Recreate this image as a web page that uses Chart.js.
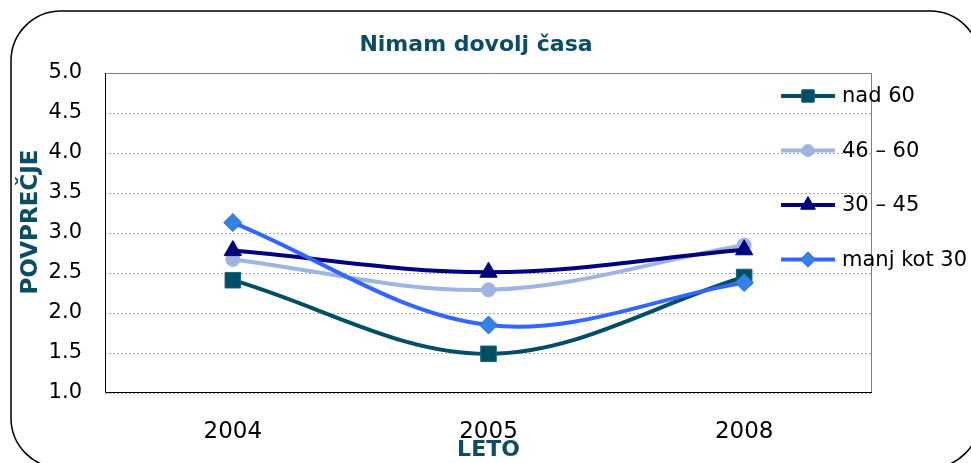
<!DOCTYPE html>
<html>
<head>
<meta charset="utf-8">
<script src="https://cdn.jsdelivr.net/npm/chart.js@4/dist/chart.umd.min.js"></script>
<style>
  html, body { margin: 0; padding: 0; background: #fff; }
  #wrap { width: 971px; height: 463px; }
</style>
</head>
<body>
<div id="wrap"><canvas id="my-chart" width="971" height="463"></canvas></div>
<script>
const years = ['2004', '2005', '2008'];
const nad60 = [2.41, 1.49, 2.45];
const od46do60 = [2.67, 2.29, 2.85];
const od30do45 = [2.78, 2.51, 2.79];
const manjKot30 = [3.13, 1.85, 2.38];
const seriesNames = ['nad 60', '46 \u2013 60', '30 \u2013 45', 'manj kot 30'];
const yTicks = [1.0, 1.5, 2.0, 2.5, 3.0, 3.5, 4.0, 4.5, 5.0];

const titleColor = '#0d4c64';
const font = '"DejaVu Sans", Verdana, sans-serif';

// draws one marker like the chart points (used by the legend)
function drawMarker(ctx, style, x, y, r, fill, stroke) {
  ctx.save();
  ctx.fillStyle = fill;
  ctx.strokeStyle = stroke;
  ctx.lineWidth = 1;
  ctx.beginPath();
  if (style === 'rect') {
    const s = r * Math.SQRT1_2;
    ctx.rect(x - s, y - s, 2 * s, 2 * s);
  } else if (style === 'circle') {
    ctx.arc(x, y, r, 0, Math.PI * 2);
  } else if (style === 'triangle') {
    const s = r * Math.sqrt(3);
    ctx.moveTo(x, y - r);
    ctx.lineTo(x + s / 2, y + r / 2);
    ctx.lineTo(x - s / 2, y + r / 2);
    ctx.closePath();
  } else {
    ctx.moveTo(x, y - r);
    ctx.lineTo(x + r, y);
    ctx.lineTo(x, y + r);
    ctx.lineTo(x - r, y);
    ctx.closePath();
  }
  ctx.fill();
  ctx.stroke();
  ctx.restore();
}

const framePlugin = {
  id: 'frame',
  beforeDraw(chart) {
    const ctx = chart.ctx;
    ctx.save();
    ctx.strokeStyle = '#000';
    ctx.lineWidth = 1.5;
    ctx.beginPath();
    ctx.roundRect(11, 11, 969, 457, 50);
    ctx.stroke();
    ctx.restore();
  },
  afterDraw(chart) {
    const ctx = chart.ctx;
    const a = chart.chartArea;
    ctx.save();
    // plot box
    ctx.strokeStyle = '#808080';
    ctx.lineWidth = 1;
    ctx.beginPath();
    ctx.moveTo(a.left + 0.5, a.top + 0.5);
    ctx.lineTo(a.right - 0.5, a.top + 0.5);
    ctx.lineTo(a.right - 0.5, a.bottom);
    ctx.stroke();
    ctx.strokeStyle = '#000';
    ctx.beginPath();
    ctx.moveTo(a.left + 0.5, a.top);
    ctx.lineTo(a.left + 0.5, a.bottom - 0.5);
    ctx.lineTo(a.right, a.bottom - 0.5);
    ctx.stroke();

    // title
    ctx.fillStyle = titleColor;
    ctx.font = 'bold 22px ' + font;
    ctx.textAlign = 'center';
    ctx.textBaseline = 'middle';
    ctx.fillText('Nimam dovolj \u010dasa', 476, 45);

    // y axis title
    ctx.save();
    ctx.translate(31, 222);
    ctx.rotate(-Math.PI / 2);
    ctx.font = 'bold 23px ' + font;
    ctx.fillText('POVPRE\u010cJE', 0, 0);
    ctx.restore();

    // legend
    ctx.font = '21px ' + font;
    ctx.textAlign = 'left';
    chart.data.datasets.forEach((ds, i) => {
      const y = 96 + i * 54.5;
      ctx.strokeStyle = ds.borderColor;
      ctx.lineWidth = 4;
      ctx.beginPath();
      ctx.moveTo(781, y);
      ctx.lineTo(835, y);
      ctx.stroke();
      drawMarker(ctx, ds.pointStyle, 808, y, ds.pointRadius * (ds.pointStyle === 'rect' ? 0.8 : 0.85),
        ds.pointBackgroundColor, ds.pointBorderColor);
      ctx.fillStyle = '#000';
      ctx.fillText(ds.label, 842, y + 1);
    });
    ctx.restore();
  }
};

const ctx = document.getElementById('my-chart').getContext('2d');
const chart = new Chart(ctx, {
  type: 'line',
  data: {
    labels: years,
    datasets: [
      {
        label: seriesNames[0], data: nad60, order: 4,
        borderColor: '#004d66', borderWidth: 4,
        pointStyle: 'rect', pointRadius: 11,
        pointBackgroundColor: '#004d66', pointBorderColor: '#1d5f78', pointBorderWidth: 1
      },
      {
        label: seriesNames[1], data: od46do60, order: 3,
        borderColor: '#9fb4de', borderWidth: 4,
        pointStyle: 'circle', pointRadius: 7,
        pointBackgroundColor: '#9fb4de', pointBorderColor: '#9fb4de', pointBorderWidth: 1
      },
      {
        label: seriesNames[2], data: od30do45, order: 2,
        borderColor: '#000080', borderWidth: 4,
        pointStyle: 'triangle', pointRadius: 10,
        pointBackgroundColor: '#000080', pointBorderColor: '#000080', pointBorderWidth: 1
      },
      {
        label: seriesNames[3], data: manjKot30, order: 1,
        borderColor: '#3366ff', borderWidth: 4,
        pointStyle: 'rectRot', pointRadius: 9,
        pointBackgroundColor: '#3383e6', pointBorderColor: '#2a6ccc', pointBorderWidth: 1
      }
    ]
  },
  options: {
    responsive: false,
    animation: false,
    layout: { padding: { top: 73, right: 99, left: 10, bottom: 0 } },
    elements: { line: { tension: 0.35 } },
    plugins: {
      legend: { display: false },
      title: { display: false },
      tooltip: { enabled: false }
    },
    scales: {
      x: {
        offset: true,
        grid: { display: false, drawTicks: false },
        border: { display: false },
        ticks: { color: '#000', padding: 25, font: { family: font, size: 23 } },
        title: {
          display: true, text: 'LETO', color: titleColor,
          padding: { top: 0, bottom: 0 },
          font: { family: font, size: 22, weight: 'bold' }
        },
        afterFit(scale) { scale.height = 70; }
      },
      y: {
        min: 1, max: 5,
        afterBuildTicks(scale) { scale.ticks = yTicks.map(v => ({ value: v })); },
        grid: { color: '#a6a6a6', lineWidth: 1, drawTicks: false },
        border: { display: false, dash: [2, 2] },
        ticks: {
          color: '#000', padding: 23,
          font: { family: font, size: 21 },
          callback: v => v.toFixed(1)
        },
        afterFit(scale) { scale.width = 95; }
      }
    }
  },
  plugins: [framePlugin]
});
</script>
</body>
</html>
